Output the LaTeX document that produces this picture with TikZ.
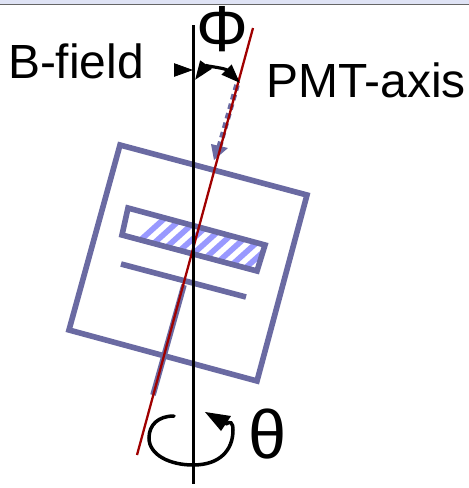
\documentclass[tikz,border=0pt]{standalone}
\usepackage{fontspec}
\setmainfont{Liberation Sans}
\usetikzlibrary{arrows.meta}
\definecolor{Frame}{HTML}{6A6AA2}
\definecolor{Hatch}{HTML}{9999FF}
\definecolor{Axis}{HTML}{A00000}
\definecolor{Band}{HTML}{DFE3F5}
\tikzset{
  frameline/.style={Frame,line width=3.2pt},
  label/.style={inner sep=0pt,font=\fontsize{27.3}{30}\selectfont},
  symbol/.style={inner sep=0pt,font=\fontsize{37}{40}\selectfont},
}
\begin{document}
\begin{tikzpicture}[x=0.02cm,y=-0.02cm]
  \useasboundingbox (0,0) rectangle (469,488);
  \fill[white] (0,0) rectangle (469,488);
  \fill[Band] (0,0) rectangle (469,4);
  \draw[black!60,line width=0.7pt] (0,4.5) -- (469,4.5);
  % hatched plate
  \begin{scope}
    \clip (128,208) -- (265,245) -- (257,271) -- (122,235) -- cycle;
    \foreach \x in {85,102,...,255}
      \draw[Hatch,line width=3.2pt] (\x,290) -- (\x+100,200);
  \end{scope}
  \draw[frameline] (128,208) -- (265,245) -- (257,271) -- (122,235) -- cycle;
  \draw[frameline] (121,264) -- (246,297);
  \draw[frameline] (120,145) -- (307,195) -- (257,381) -- (69,330) -- cycle;
  \draw[frameline] (184,285) -- (153,395);
  % PMT direction
  \draw[Frame,line width=3.2pt,dash pattern=on 3.2pt off 2.4pt] (237,85) -- (219,148);
  \fill[Frame] (211,144) -- (228,148) -- (214,160) -- cycle;
  % axes
  \draw[Axis,line width=1.3pt] (253,28) -- (137,455);
  \draw[black,line width=1.15pt] (193.5,25) -- (193.5,484);
  % angle between the axes
  \coordinate (bstart) at (174,70);
  \coordinate (btip) at (193,70);
  \draw[-{Triangle[length=3.8mm,width=2.7mm]},line width=0.5pt] (bstart) -- (btip);
  \draw[{Triangle[length=3.8mm,width=2.7mm]}-{Triangle[length=3.8mm,width=2.7mm]},line width=1.8pt]
    (195,80) .. controls (205,66) and (225,68) .. (240,83);
  % rotation
  \draw[line width=2pt,line cap=round] (174,416) .. controls (158,416) and (149,425) .. (149,438)
    .. controls (149,455) and (170,465) .. (193,465)
    .. controls (220,465) and (233,450) .. (233,430) .. controls (233,422) and (230,421) .. (226,424);
  \fill (205,412) -- (231,416) -- (221,431) -- cycle;
  \node[label] (bfield) at (76,61) {B-field};
  \node[label] (pmtaxis) at (366,80) {PMT-axis};
  \node[symbol] (phi) at (222,29) {Φ};
  \node[symbol,font=\fontsize{39}{42}\selectfont] (theta) at (268,434) {θ};
\end{tikzpicture}
\end{document}
